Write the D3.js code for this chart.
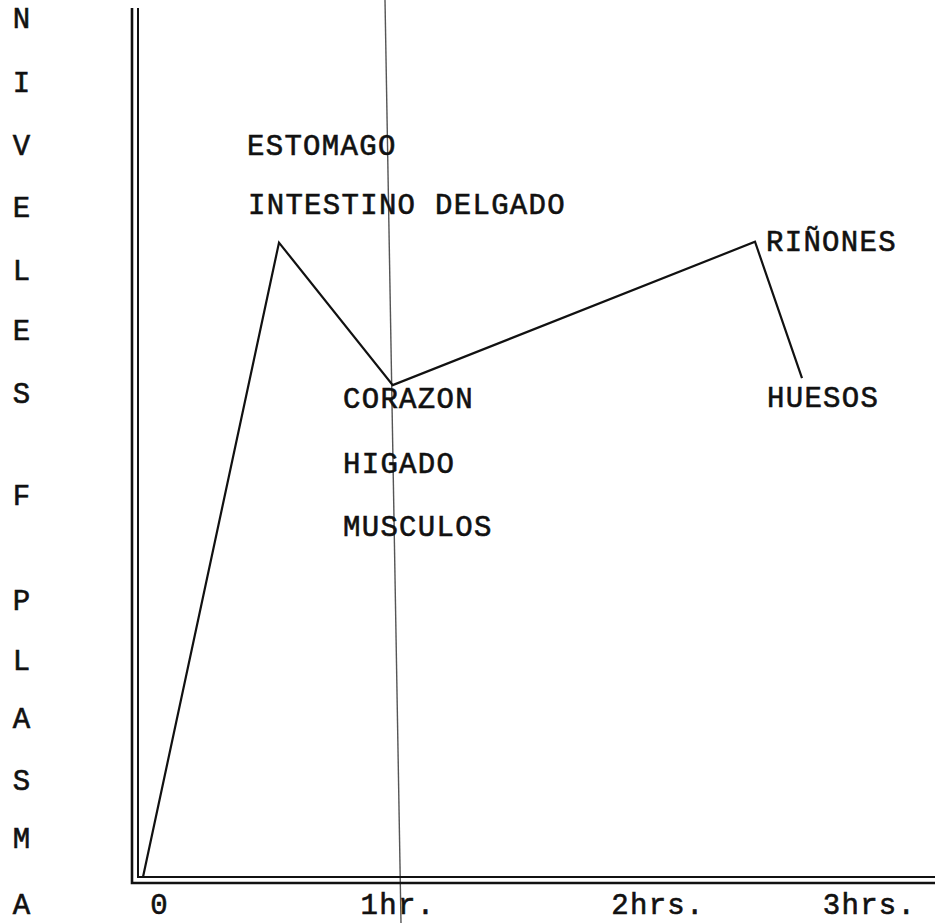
<!DOCTYPE html>
<html>
<head>
<meta charset="utf-8">
<script src="https://cdn.jsdelivr.net/npm/d3@7"></script>
<style>
	body { margin: 0; background: #fff; }
	svg text { font-family: "Liberation Mono", "Courier New", monospace; font-size: 29px; letter-spacing: 1.3px; fill: #111; stroke: #111; stroke-width: 0.6px; }
</style>
</head>
<body>
<svg width="935" height="923"></svg>
<script>
/*
Data: time in hours, plasma level in arbitrary units (0-100)
*/

const hours = [0, 0.544, 0.999, 2.448, 2.636];
const levels = [0, 73.0, 56.6, 73.1, 57.4];

// x axis labels and where they sit (in hours)
const tickHours = [0.064, 1.018, 2.058, 2.904];
const tickLabels = ['0', '1hr.', '2hrs.', '3hrs.'];

// organ annotations
const organNames = ['ESTOMAGO', 'INTESTINO DELGADO', 'RIÑONES', 'CORAZON', 'HIGADO', 'MUSCULOS', 'HUESOS'];
const organHours = [0.416, 0.42, 2.492, 0.8, 0.8, 0.8, 2.496];
const organLevels = [83.1, 76.3, 72.0, 54.0, 46.5, 39.2, 54.1];

// vertical title, one letter per row
const yTitleLetters = ['N', 'I', 'V', 'E', 'L', 'E', 'S', 'F', 'P', 'L', 'A', 'S', 'M', 'A'];
const yTitleBaselines = [28, 92, 155, 217, 280, 340, 403, 505, 610, 670, 728, 790, 848, 914];

// hand drawn line at 1hr (slightly tilted), top and bottom in hours
const refLineHours = [0.968, 1.032];

/*
Set up SVG
*/

var svg = d3.select('svg'),
	width = +svg.attr('width'),
	height = +svg.attr('height');

var x = d3.scaleLinear().domain([0, 3]).range([143, 893]);
var y = d3.scaleLinear().domain([0, 100]).range([877, 8]);

// reference line first so text sits over it
svg.append('line')
	.attr('x1', x(refLineHours[0])).attr('y1', 0)
	.attr('x2', x(refLineHours[1])).attr('y2', height)
	.attr('stroke', '#555')
	.attr('stroke-width', 1.4);

/*
Double axis lines
*/

var axes = svg.append('g').attr('fill', 'none').attr('stroke', '#111');

// outer pair
axes.append('path')
	.attr('d', 'M132,' + y(100) + 'V883H' + width)
	.attr('stroke-width', 2.6);
// inner pair
axes.append('path')
	.attr('d', 'M138,' + y(100) + 'V' + y(0) + 'H' + width)
	.attr('stroke-width', 2);

/*
x axis labels through d3.axisBottom
*/

var xAxis = d3.axisBottom(x)
	.tickValues(tickHours)
	.tickFormat(function(d, i){ return tickLabels[i]; })
	.tickSize(0);

var xg = svg.append('g')
	.attr('transform', 'translate(0,883)')
	.call(xAxis);
xg.select('.domain').remove();
xg.selectAll('text')
	.attr('y', 31)
	.attr('dy', null)
	.attr('font-family', null)
	.attr('font-size', null)
	.attr('fill', null);

/*
Vertical title
*/

svg.append('g')
	.selectAll('text')
	.data(yTitleLetters)
	.enter().append('text')
		.attr('x', 22)
		.attr('y', function(d, i){ return yTitleBaselines[i]; })
		.attr('text-anchor', 'middle')
		.text(function(d){ return d; });

/*
Level curve
*/

var line = d3.line()
	.x(function(d, i){ return x(hours[i]); })
	.y(function(d){ return y(d); });

svg.append('path')
	.datum(levels)
	.attr('d', line)
	.attr('fill', 'none')
	.attr('stroke', '#111')
	.attr('stroke-width', 2.2)
	.attr('stroke-linejoin', 'miter');

/*
Organ annotations
*/

svg.append('g')
	.selectAll('text')
	.data(organNames)
	.enter().append('text')
		.attr('x', function(d, i){ return x(organHours[i]); })
		.attr('y', function(d, i){ return y(organLevels[i]); })
		.text(function(d){ return d; });
</script>
</body>
</html>
